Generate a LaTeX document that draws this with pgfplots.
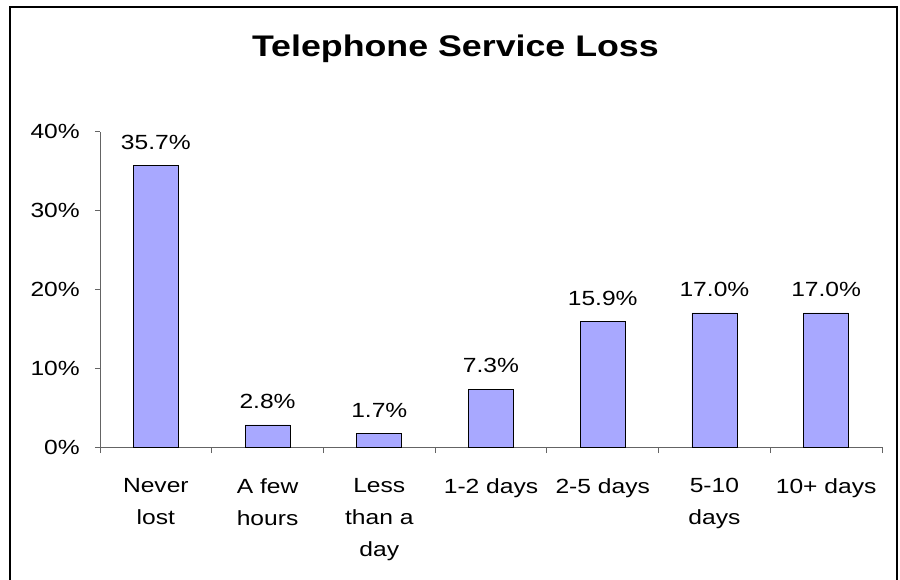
\documentclass[border=0pt]{standalone}
\usepackage{fontspec}
\setmainfont[FakeStretch=1.2]{Liberation Sans}
\usepackage{pgfplots}
\pgfplotsset{compat=1.18}
\definecolor{barfill}{RGB}{168,168,255}
\definecolor{axgray}{RGB}{100,100,100}
\newcommand{\tl}{\fontsize{20.5}{24}\selectfont}
\begin{document}
\begin{tikzpicture}[x=1pt,y=1pt]
\useasboundingbox (0,0) rectangle (900,579);
\draw[line width=1.5pt] (10,-2) -- (10,572) -- (897,572) -- (897,-2);
\node[anchor=base,font=\fontsize{29.8}{34}\selectfont\bfseries] at (455.4,522.3) {Telephone Service Loss};
\begin{axis}[
  at={(100pt,132pt)}, anchor=south west,
  width=782pt, height=315.3pt, scale only axis,
  xmin=-0.5, xmax=6.5, ymin=0, ymax=40,
  axis x line*=bottom, axis y line*=left,
  axis line style={axgray, line width=0.9pt},
  every tick/.style={axgray, line width=0.9pt},
  tick align=outside,
  xtick={0,1,2,3,4,5,6},
  xticklabels={Never\\lost, A few\\hours, Less\\than a\\day, 1-2 days, 2-5 days, 5-10\\days, 10+ days},
  major x tick style={draw=none},
  minor xtick={-0.5,0.5,1.5,2.5,3.5,4.5,5.5,6.5},
  minor tick length=6pt,
  major tick length=5pt,
  ytick={0,10,20,30,40},
  yticklabels={{\tl 0\%},{\tl 10\%},{\tl 20\%},{\tl 30\%},{\tl 40\%}},
  xticklabel style={font=\fontsize{20.5}{32}\selectfont, align=center, anchor=north, inner sep=0pt, yshift=-26pt},
  yticklabel style={font=\tl, anchor=east, inner sep=0pt, xshift=-15pt},
  ybar, bar width=45pt,
  nodes near coords={\pgfmathprintnumber[fixed,fixed zerofill,precision=1,assume math mode=true]{\pgfplotspointmeta}\%},
  every node near coord/.append style={font=\tl, anchor=base, inner sep=0pt, yshift=16.5pt, text=black},
  clip=false,
]
\addplot[fill=barfill, draw=black, line width=0.8pt] coordinates {
(0,35.7) (1,2.8) (2,1.7) (3,7.3) (4,15.9) (5,17.0) (6,17.0)
};
\end{axis}
\end{tikzpicture}
\end{document}
